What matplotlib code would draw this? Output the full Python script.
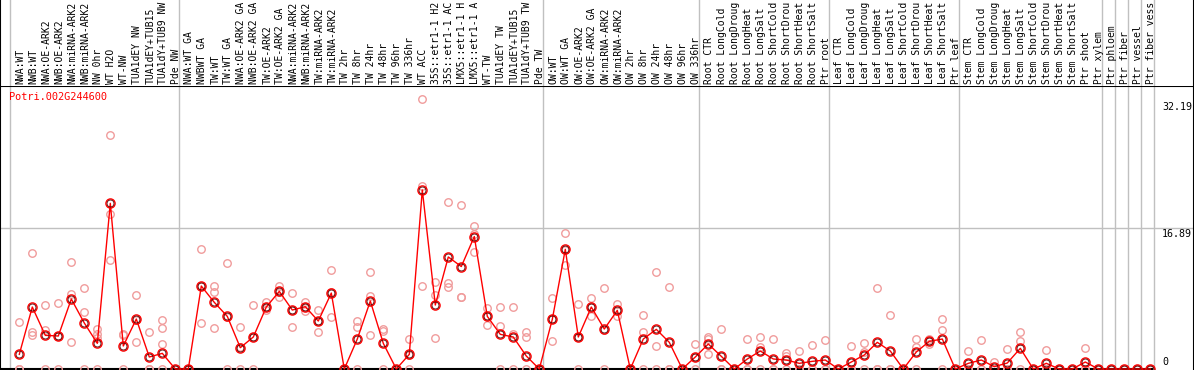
import matplotlib
matplotlib.use("Agg")
import matplotlib.pyplot as plt

plt.rcParams['font.family'] = ['DejaVu Sans Mono']
plt.rcParams['font.size'] = 7

gene = "Potri.002G244600"

labels = [
    # NW
    "NWA:WT", "NWB:WT", "NWA:OE-ARK2", "NWB:OE-ARK2", "NWA:miRNA-ARK2", "NWB:miRNA-ARK2",
    "NW 0hr", "WT H2O", "WT-NW", "TUA1dEY NW", "TUA1dEY+TUB15", "TUA1dY+TUB9 NW", "Pde NW",
    # TW
    "NWA:WT GA", "NWBWT GA", "TW:WT", "TW:WT GA", "NWA:OE-ARK2 GA", "NWB:OE-ARK2 GA",
    "TW:OE-ARK2", "TW:OE-ARK2 GA", "NWA:miRNA-ARK2", "NWB:miRNA-ARK2", "TW:miRNA-ARK2",
    "TW:miRNA-ARK2", "TW 2hr", "TW 8hr", "TW 24hr", "TW 48hr", "TW 96hr", "TW 336hr",
    "WT ACC", "35S::etr1-1 H2", "35S::etr1-1 AC", "LMX5::etr1-1 H", "LMX5::etr1-1 A",
    "WT-TW", "TUA1dEY TW", "TUA1dEY+TUB15", "TUA1dY+TUB9 TW", "Pde TW",
    # OW
    "OW:WT", "OW:WT GA", "OW:OE-ARK2", "OW:OE-ARK2 GA", "OW:miRNA-ARK2", "OW:miRNA-ARK2",
    "OW 2hr", "OW 8hr", "OW 24hr", "OW 48hr", "OW 96hr", "OW 336hr",
    # root
    "Root CTR", "Root LongCold", "Root LongDroug", "Root LongHeat", "Root LongSalt",
    "Root ShortCold", "Root ShortDrou", "Root ShortHeat", "Root ShortSalt", "Ptr root",
    # leaf
    "Leaf CTR", "Leaf LongCold", "Leaf LongDroug", "Leaf LongHeat", "Leaf LongSalt",
    "Leaf ShortCold", "Leaf ShortDrou", "Leaf ShortHeat", "Leaf ShortSalt", "Ptr leaf",
    # stem
    "Stem CTR", "Stem LongCold", "Stem LongDroug", "Stem LongHeat", "Stem LongSalt",
    "Stem ShortCold", "Stem ShortDrou", "Stem ShortHeat", "Stem ShortSalt", "Ptr shoot",
    "Ptr xylem",
    "Ptr phloem", "Ptr fiber", "Ptr vessel", "Ptr fiber vess",
]

# index where each group starts (plus the end)
group_bounds = [0, 13, 41, 53, 63, 73, 84, 85, 86, 87, 88]

means = [
    1.76, 7.44, 4.04, 3.96, 8.40, 5.52, 3.08, 19.89, 2.76, 6.0, 1.44, 1.88, 0,
    0, 9.96, 8.0, 6.32, 2.56, 3.84, 7.44, 9.32, 7.08, 7.48, 5.76, 9.12, 0, 3.6,
    8.16, 3.08, 0, 1.76, 21.5, 7.68, 13.45, 12.3, 15.9, 6.32, 4.16, 3.84, 1.56, 0,
    5.96, 14.37, 3.84, 7.44, 4.8, 7.04, 0, 3.6, 4.76, 3.2, 0, 1.44,
    3.0, 1.52, 0, 1.2, 2.16, 1.2, 1.08, 0.68, 0.92, 1.08,
    0, 0.84, 1.68, 3.2, 2.16, 0, 2.04, 3.32, 3.6, 0,
    0.68, 1.08, 0.28, 0.72, 2.48, 0, 0.68, 0, 0, 0.84, 0,
    0, 0, 0, 0,
]

reps = [
    [5.64, 0, 0], [13.9, 4.48, 4.08], [7.68, 4.68, 0], [7.88, 4.0, 0], [12.8, 9.0, 3.2],
    [9.68, 6.8, 0], [4.84, 4.2, 3.7, 0], [28.1, 18.6, 13.1], [4.2, 4.1, 0], [8.88, 5.9, 3.24],
    [4.4, 0, 0], [5.88, 4.88, 3.0, 0], [0, 0, 0],
    [0, 0, 0], [14.4, 10.0, 5.52], [9.96, 9.2, 4.92], [12.7, 6.3, 0], [5.0, 2.7, 0],
    [7.68, 3.84, 0], [8.0, 7.44, 7.04], [9.96, 9.3, 8.68], [9.12, 7.1, 5.0], [8.04, 7.48, 6.96],
    [7.08, 5.8, 4.4], [11.85, 9.3, 6.2], [0, 0, 0], [5.76, 5.0, 0], [11.6, 8.8, 4.04],
    [4.76, 4.6, 0], [0, 0, 0], [3.6, 1.7, 0], [32.4, 22.0, 9.96], [10.4, 8.88, 3.68],
    [20.0, 10.36, 9.88], [19.65, 8.7, 8.6], [17.2, 16.2, 14.1], [7.28, 6.4, 5.24],
    [7.4, 5.12, 0], [7.4, 4.16, 0], [4.4, 3.84, 0], [0, 0, 0],
    [8.48, 6.0, 3.36], [16.3, 14.3, 12.5], [7.76, 3.8, 0], [8.48, 7.44, 6.36], [9.68, 4.7, 0],
    [7.76, 7.0, 6.4], [0, 0, 0], [6.44, 4.44, 0], [11.6, 2.76, 0], [9.84, 0, 0], [0, 0, 0],
    [2.96, 1.4, 0],
    [3.88, 3.56, 1.76], [4.76, 0, 0], [0, 0, 0], [3.6, 0, 0], [3.84, 2.68, 0], [3.6, 0, 0],
    [1.88, 1.56, 0], [2.16, 0, 0], [2.84, 0, 0], [3.48, 0, 0],
    [0, 0, 0], [2.76, 0, 0], [3.16, 2.0, 0], [9.68, 0, 0], [6.44, 0, 0], [0, 0, 0],
    [3.6, 2.64, 0], [3.6, 3.32, 3.0], [5.96, 4.68, 0], [0, 0, 0],
    [2.16, 0, 0], [3.48, 0, 0], [0.84, 0, 0], [2.4, 0, 0], [4.4, 3.32, 0], [0, 0, 0],
    [2.28, 0, 0], [0, 0, 0], [0, 0, 0], [2.48, 0, 0], [0, 0, 0],
    [0, 0, 0], [0, 0, 0], [0, 0, 0], [0, 0, 0],
]

ytick_vals = [32.19, 16.89, 0]

W, H = 1194, 370
HEAD = 86          # header height in px
STEP = 13.0        # px per sample
X0 = 19.3          # px of first sample
PXU = 8.33         # px per expression unit
ZERO = 369         # px (from top) of y=0
RIGHT = 1193.5

fig = plt.figure(figsize=(W / 100, H / 100), dpi=100)
ax = fig.add_axes([0, 0, RIGHT / W, (H - HEAD) / H])
hax = fig.add_axes([0, (H - HEAD) / H, RIGHT / W, HEAD / H], sharex=ax)

ax.set_xlim(-X0 / STEP, (RIGHT - X0) / STEP)
ax.set_ylim((ZERO - H) / PXU, (ZERO - HEAD) / PXU)

grey = '#c0c0c0'
sep_off = (X0 - 10) / STEP
seps = [b - sep_off for b in group_bounds]
for s in seps:
    ax.axvline(s, color=grey, lw=1, zorder=1)
    hax.axvline(s, color=grey, lw=1, zorder=1)
ax.axhline(ytick_vals[1], color=grey, lw=1, zorder=1)
ax.hlines(0, ax.get_xlim()[0], seps[-1], color='black', lw=1.5, zorder=2)

xs = list(range(len(labels)))
rx, ry = [], []
for i, r in enumerate(reps):
    rx += [i] * len(r)
    ry += r
ax.plot(rx, ry, 'o', ms=5.4, mfc='none', mec='#f09c9c', mew=1.0, zorder=3)
ax.plot(xs, means, '-', color='#ff0000', lw=1.0, zorder=4)
ax.plot(xs, means, 'o', ms=6.6, mfc='none', mec='#ff0000', mew=1.0, zorder=5)
ax.plot(xs, means, 'o', ms=5.0, mfc='none', mec='#500000', mew=0.6, zorder=5)

for v in ytick_vals:
    va = 'bottom' if v == 0 else 'top'
    dy = 2 if v == 0 else -1
    ax.annotate(f"{v:g}", xy=(seps[-1], v), xytext=(8, dy), textcoords='offset pixels',
                ha='left', va=va, fontsize=7.2)

ax.annotate(gene, xy=(0, 1), xycoords='axes fraction', xytext=(9, -11),
            textcoords='offset pixels', ha='left', va='center', color='#ff0000', fontsize=7.4)

for i, lab in enumerate(labels):
    hax.annotate(lab, xy=(i, 0), xycoords=hax.get_xaxis_transform(), xytext=(1, 2),
                 textcoords='offset pixels', rotation=90, ha='center', va='bottom', fontsize=7)

for a in (ax, hax):
    a.set_xticks([])
    a.set_yticks([])
    for side in ('left', 'right'):
        a.spines[side].set_color('black')
        a.spines[side].set_linewidth(1.5)
ax.spines['bottom'].set_visible(False)
ax.spines['top'].set_linewidth(1.5)
hax.spines['top'].set_visible(False)
hax.spines['bottom'].set_visible(False)

fig.savefig('out.png', dpi=100)
